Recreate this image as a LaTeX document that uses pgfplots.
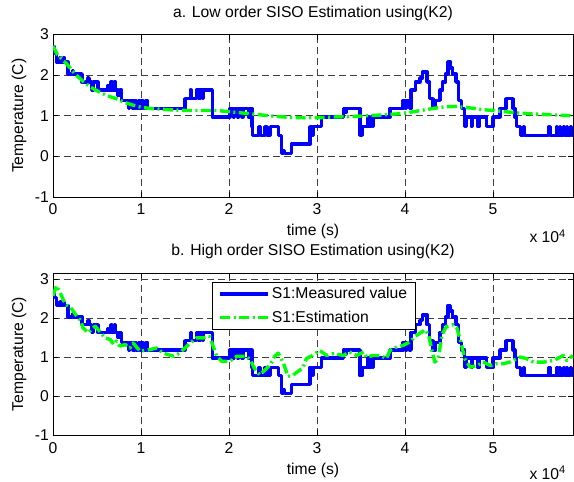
\documentclass[border=0pt]{standalone}
\usepackage{pgfplots}
\pgfplotsset{compat=1.18}
\usepackage{fontspec}
\setmainfont{Liberation Sans}
\definecolor{mblue}{RGB}{0,0,255}
\definecolor{mgreen}{RGB}{0,255,0}
\newcommand{\fs}{\fontsize{15.7bp}{18bp}\selectfont}
\pgfplotsset{
 myax/.style={
  scale only axis, width=520bp, anchor=south west, clip mode=individual,
  xmin=0, xmax=5.91, ymin=-1,
  xtick={0,1,2,3,4,5}, xticklabels={0,1,2,3,4,5},
  ytick={-1,0,1,2,3}, yticklabels={-1,0,1,2,3},
  grid=major, major grid style={dash pattern=on 7bp off 4bp, black!75, line width=0.5bp},
  tick align=inside, major tick length=5bp, tick style={black, line width=0.6bp},
  axis line style={line width=0.8bp},
  xticklabel style={anchor=base, yshift=-18bp, inner sep=0pt},
  yticklabel style={anchor=east, xshift=-4bp, inner sep=0pt},
  title style={at={(axis description cs:0.5,1)}, anchor=base, yshift=11.5bp, inner sep=0pt},
  xlabel style={at={(axis description cs:0.5,0)}, anchor=base, yshift=-39bp, inner sep=0pt},
  ylabel style={at={(axis description cs:-0.0654,0.5)}, anchor=center, inner sep=0pt},
  xlabel={time (s)}, ylabel={Temperature (C)},
  font=\fs,
 },
 meas/.style={mblue, line width=3.4bp, const plot, line join=round},
 est/.style={mgreen, line width=3.4bp, dash pattern=on 10bp off 3.5bp on 2bp off 3.5bp, line join=round},
}
\pgfplotstableread{
t y
0 2.69
0.02 2.53
0.04 2.32
0.08 2.42
0.09 2.32
0.12 2.42
0.13 2.32
0.17 2.03
0.22 2.12
0.23 2.03
0.33 1.83
0.40 1.93
0.41 1.83
0.44 1.63
0.46 1.83
0.51 1.63
0.62 1.73
0.63 1.63
0.66 1.83
0.67 1.63
0.70 1.83
0.71 1.63
0.74 1.50
0.76 1.63
0.78 1.38
0.86 1.18
0.87 1.38
0.91 1.18
0.93 1.38
0.95 1.18
0.97 1.38
0.99 1.18
1.01 1.38
1.03 1.18
1.05 1.38
1.07 1.18
1.50 1.42
1.56 1.63
1.57 1.42
1.63 1.63
1.66 1.42
1.67 1.63
1.70 1.42
1.71 1.63
1.75 1.63
1.81 0.97
2.01 1.18
2.05 0.97
2.06 1.18
2.10 0.97
2.11 1.18
2.15 0.97
2.16 1.18
2.22 0.97
2.23 1.18
2.26 0.73
2.27 0.52
2.34 0.73
2.36 0.52
2.41 0.73
2.43 0.52
2.47 0.73
2.56 0.52
2.60 0.07
2.62 0.15
2.63 0.07
2.71 0.30
2.92 0.73
2.95 0.52
2.96 0.73
3.05 0.97
3.30 1.18
3.32 1.08
3.33 1.18
3.49 0.52
3.51 0.73
3.58 0.97
3.59 0.73
3.62 0.97
3.63 0.73
3.64 0.97
3.83 1.18
3.98 1.38
4.01 1.18
4.02 1.38
4.05 1.18
4.07 1.63
4.12 1.83
4.17 1.93
4.20 2.08
4.25 1.83
4.28 1.42
4.32 1.18
4.35 1.38
4.40 1.63
4.43 1.83
4.46 2.03
4.49 2.32
4.52 2.18
4.54 2.03
4.58 1.83
4.61 1.38
4.64 1.18
4.68 0.73
4.70 0.97
4.76 0.73
4.77 0.97
4.83 0.73
4.84 0.97
4.93 0.73
5.00 0.97
5.08 1.18
5.15 1.42
5.23 1.18
5.25 0.97
5.27 0.73
5.31 0.52
5.35 0.73
5.36 0.52
5.63 0.73
5.65 0.52
5.72 0.73
5.73 0.52
5.76 0.73
5.77 0.52
5.80 0.73
5.81 0.52
5.84 0.73
5.85 0.52
5.88 0.73
5.89 0.52
5.91 0.52
}\measured
\pgfplotstableread{
t y
0 2.72
0.05 2.50
0.155 2.28
0.25 2.03
0.34 1.85
0.43 1.70
0.53 1.58
0.62 1.49
0.72 1.42
0.81 1.33
0.91 1.26
1.0 1.21
1.1 1.18
1.3 1.15
1.5 1.13
1.7 1.13
1.86 1.13
2.0 1.10
2.24 1.05
2.45 1.00
2.62 0.97
2.8 0.95
3.0 0.95
3.2 0.97
3.4 0.98
3.56 1.0
3.75 1.02
3.94 1.05
4.1 1.10
4.32 1.18
4.45 1.22
4.58 1.23
4.75 1.19
4.89 1.15
5.05 1.12
5.27 1.07
5.5 1.04
5.7 1.02
5.91 1.0
}\estlow
\pgfplotstableread{
t y
0 2.57
0.04 2.83
0.08 2.66
0.14 2.35
0.2 2.27
0.27 2.05
0.32 1.92
0.34 1.75
0.40 1.62
0.44 1.71
0.48 1.79
0.53 1.66
0.59 1.49
0.65 1.45
0.69 1.32
0.72 1.41
0.76 1.28
0.82 1.32
0.875 1.23
0.91 1.36
0.99 1.15
1.1 1.19
1.18 1.23
1.25 1.10
1.37 1.02
1.44 1.10
1.48 1.19
1.56 1.36
1.63 1.49
1.71 1.49
1.78 1.53
1.82 1.28
1.86 1.02
1.92 0.89
2.01 0.89
2.09 1.02
2.2 1.02
2.24 0.93
2.30 0.67
2.35 0.54
2.41 0.67
2.47 0.80
2.52 1.02
2.56 1.10
2.62 0.84
2.67 0.50
2.73 0.54
2.84 0.72
2.88 0.96
2.95 1.04
3.03 1.17
3.11 1.04
3.19 1.09
3.3 1.04
3.37 1.13
3.45 1.04
3.53 1.13
3.56 1.0
3.64 1.04
3.72 1.04
3.79 0.96
3.83 1.17
3.91 1.26
3.98 1.30
4.06 1.39
4.11 1.52
4.17 1.61
4.23 1.70
4.27 1.57
4.30 1.22
4.34 0.87
4.38 0.96
4.42 1.57
4.47 1.78
4.55 1.83
4.59 1.75
4.63 1.43
4.68 0.96
4.74 0.74
4.82 0.78
4.89 0.87
4.97 0.78
5.04 0.83
5.12 0.83
5.19 0.87
5.31 1.0
5.38 0.96
5.46 0.87
5.58 0.87
5.69 0.91
5.80 1.04
5.84 0.91
5.91 1.04
}\esthigh
\begin{document}
\begin{tikzpicture}[font=\fs]
\begin{axis}[myax, at={(53bp,285bp)}, height=162.5bp, ymax=3,
  title={a. Low order SISO Estimation using(K2)}]
\addplot[meas] table {\measured};
\addplot[est] table {\estlow};
\node[anchor=base east, inner sep=0pt, xshift=-7bp, yshift=-46bp] at (axis description cs:1,0) {x 10\textsuperscript{4}};
\end{axis}
\begin{axis}[myax, at={(53bp,47bp)}, height=162bp, ymax=3.155,
  title={b. High order SISO Estimation using(K2)},
  legend style={at={(axis description cs:0.306,0.944)}, anchor=north west, draw=black, line width=0.8bp, inner xsep=6bp, inner ysep=3bp, font=\fs, row sep=7bp},
  legend cell align=left,
  legend image code/.code={\draw[#1] (0bp,0bp) -- (48bp,0bp);}]
\addplot[meas] table {\measured};
\addlegendentry{S1:Measured value}
\addplot[est] table {\esthigh};
\addlegendentry{S1:Estimation}
\node[anchor=base east, inner sep=0pt, xshift=-7bp, yshift=-44bp] at (axis description cs:1,0) {x 10\textsuperscript{4}};
\end{axis}
\pgfresetboundingbox
\useasboundingbox (0,0) rectangle (574bp,482bp);
\end{tikzpicture}
\end{document}
